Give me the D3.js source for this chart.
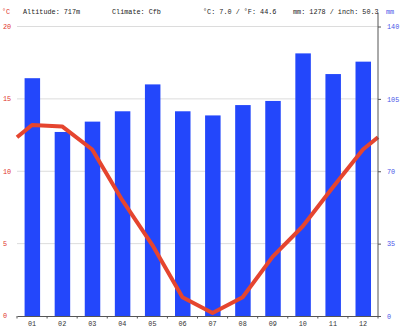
<!DOCTYPE html>
<html><head><meta charset="utf-8">
<script src="https://cdn.jsdelivr.net/npm/d3@7"></script>
<style>body{margin:0;background:#fff}svg{display:block}text{font-family:"Liberation Mono","DejaVu Sans Mono",monospace}</style>
</head><body><div id="c"></div>
<script>
const months = ["01","02","03","04","05","06","07","08","09","10","11","12"];
const precip = [115,89,94,99,112,99,97,102,104,127,117,123];
const temp = [13.2,13.1,11.5,8.0,4.9,1.3,0.2,1.3,4.1,6.2,8.9,11.5];
const tempTicks = [0,5,10,15,20];
const mmTicks = [0,35,70,105,140];
const header = ["Altitude: 717m","Climate: Cfb","°C: 7.0 / °F: 44.6","mm: 1278 / inch: 50.3"];

const W=400,H=327, L=17, R=378, T=26.5, B=316;
const svg=d3.select("#c").append("svg").attr("width",W).attr("height",H);
const x=d3.scaleBand().domain(months).range([L,R]);
const yT=d3.scaleLinear().domain([0,20]).range([B,T]);
const yP=d3.scaleLinear().domain([0,140]).range([B,T]);
const fs=6.8;

// gridlines
svg.append("g").selectAll("line").data(tempTicks.filter(d=>d>0)).join("line")
 .attr("x1",L).attr("x2",R).attr("y1",d=>yT(d)).attr("y2",d=>yT(d))
 .attr("stroke","#dcdcdc").attr("stroke-width",1);

// bars
const bw=15.5;
svg.append("g").selectAll("rect").data(precip).join("rect")
 .attr("x",(d,i)=>x(months[i])+x.bandwidth()/2-bw/2+0.3).attr("width",bw)
 .attr("y",d=>yP(d)).attr("height",d=>B-yP(d)).attr("fill","#2347fb");

// temperature line with wrap-around edges
const edge=(temp[0]+temp[11])/2;
const pts=[[L,edge]].concat(temp.map((t,i)=>[x(months[i])+x.bandwidth()/2,t])).concat([[R,edge]]);
svg.append("path").datum(pts)
 .attr("d",d3.line().x(d=>d[0]).y(d=>yT(d[1])))
 .attr("fill","none").attr("stroke","#e5452f").attr("stroke-width",4).attr("stroke-linejoin","round");

// bottom axis
const xa=svg.append("g").attr("transform",`translate(0,${B})`)
 .call(d3.axisBottom(x).tickSize(0).tickPadding(5));
xa.select(".domain").attr("stroke","#555");
xa.selectAll("text").attr("font-size",fs).attr("fill","#333").attr("font-family","Liberation Mono, monospace");
svg.append("g").selectAll("line").data(d3.range(13)).join("line")
 .attr("x1",i=>L+i*x.bandwidth()).attr("x2",i=>L+i*x.bandwidth())
 .attr("y1",B).attr("y2",B+2.5).attr("stroke","#555");

// right axis
const ya=svg.append("g").attr("transform",`translate(${R},0)`)
 .call(d3.axisRight(yP).tickValues(mmTicks).tickSize(3).tickPadding(6).tickSizeOuter(0));
ya.select(".domain").remove();
svg.append("line").attr("x1",R).attr("x2",R).attr("y1",13).attr("y2",B).attr("stroke","#555");
ya.selectAll(".tick line").attr("stroke","#555");
ya.selectAll("text").attr("font-size",fs).attr("fill","#4a55e8").attr("font-family","Liberation Mono, monospace");

// left labels
svg.append("g").selectAll("text").data(tempTicks).join("text")
 .attr("x",3).attr("y",d=>yT(d)).attr("dy","0.35em")
 .attr("font-size",fs).attr("fill","#e0332a").text(d=>d);

// header
svg.append("text").attr("x",2).attr("y",14).attr("font-size",fs).attr("fill","#e0332a").text("°C");
svg.append("text").attr("x",386).attr("y",14).attr("font-size",fs).attr("fill","#4a55e8").text("mm");
const hx=[23,112,203,293];
svg.append("g").selectAll("text").data(header).join("text")
 .attr("x",(d,i)=>hx[i]).attr("y",14).attr("font-size",fs).attr("fill","#222").text(d=>d);
</script></body></html>
